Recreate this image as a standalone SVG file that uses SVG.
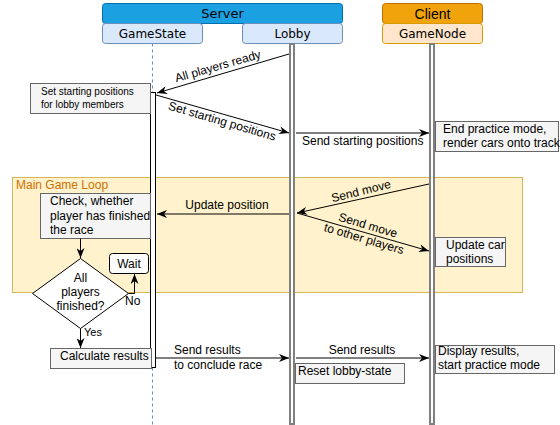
<svg xmlns="http://www.w3.org/2000/svg" width="560" height="425" viewBox="0 0 560 425">
<style>
.t{font-family:"Liberation Sans",Arial,sans-serif;font-size:12px;fill:#000}
.v{font-family:"DejaVu Sans",Verdana,sans-serif;font-size:12px;fill:#000}
.note{fill:#f5f5f5;stroke:#666;stroke-width:1}
.msg{fill:none;stroke:#000;stroke-width:1;marker-end:url(#a)}
.life{fill:#fff;stroke:#808080;stroke-width:2}
</style>
<defs>
<marker id="a" viewBox="0 0 10 8" refX="10" refY="4" markerWidth="10" markerHeight="8" orient="auto" markerUnits="userSpaceOnUse">
<path d="M0,0 L10,4 L0,8 L3,4 z" fill="#000"/>
</marker>
</defs>
<rect width="560" height="425" fill="#fff"/>

<g id="frame">
<rect x="12.5" y="177.5" width="510" height="115" fill="#fff2cc" stroke="#d6b656"/>
<text x="16" y="189" style="font-family:'Liberation Sans',Arial,sans-serif;font-size:12px;fill:#d07000">Main Game Loop</text>
</g>

<g id="server">
<rect x="102.5" y="3.5" width="240" height="20" rx="3" fill="#1ba1e2" stroke="#006eaf"/>
<text x="222.5" y="18" text-anchor="middle" class="v" style="font-size:13px">Server</text>
</g>
<g id="client">
<rect x="382.5" y="3.5" width="100" height="20" rx="3" fill="#f0a30a" stroke="#bd7000"/>
<text x="432.5" y="18.5" text-anchor="middle" class="t" style="font-size:14px">Client</text>
</g>
<g id="gamestate">
<rect x="102.5" y="23.5" width="100" height="20" rx="3" fill="#dae8fc" stroke="#6c8ebf"/>
<text x="152.5" y="37.5" text-anchor="middle" class="v">GameState</text>
<line x1="152.5" y1="43.5" x2="152.5" y2="425" stroke="#6c8ebf" stroke-dasharray="3 3"/>
<rect x="150.5" y="92.5" width="5" height="275" fill="#fff" stroke="#000"/>
</g>
<g id="lobby">
<rect x="242.5" y="23.5" width="100" height="20" rx="3" fill="#dae8fc" stroke="#6c8ebf"/>
<text x="292.5" y="37.5" text-anchor="middle" class="v">Lobby</text>
<rect x="290" y="44" width="4" height="380" class="life"/>
</g>
<g id="gamenode">
<rect x="382.5" y="23.5" width="100" height="20" rx="3" fill="#ffe6cc" stroke="#d79b00"/>
<text x="432.5" y="37.5" text-anchor="middle" class="v">GameNode</text>
<rect x="430" y="44" width="4" height="380" class="life"/>
</g>

<g id="set-start-note">
<rect x="30.5" y="83.5" width="120" height="30" class="note"/>
<text x="41" y="95" class="t" style="font-size:10px">Set starting positions</text>
<text x="41" y="108" class="t" style="font-size:10px">for lobby members</text>
</g>
<g id="end-practice">
<rect x="435.5" y="121.5" width="123" height="30" class="note"/>
<text x="443" y="133" class="t">End practice mode,</text>
<text x="443" y="147" class="t">render cars onto track</text>
</g>
<g id="check">
<rect x="40.5" y="193.5" width="110" height="45" class="note"/>
<text x="50" y="205" class="t">Check, whether</text>
<text x="50" y="219.5" class="t">player has finished</text>
<text x="50" y="234" class="t">the race</text>
</g>
<g id="decision">
<path d="M80.5,258.5 L128.5,293.5 L80.5,328.5 L32.5,293.5 Z" fill="#fff" stroke="#000"/>
<text x="80.5" y="282" text-anchor="middle" class="t">All</text>
<text x="80.5" y="296" text-anchor="middle" class="t">players</text>
<text x="80.5" y="310" text-anchor="middle" class="t">finished?</text>
</g>
<g id="wait">
<rect x="109.5" y="253.5" width="39" height="20" rx="3" fill="#fff" stroke="#000"/>
<text x="129" y="267.5" text-anchor="middle" class="t">Wait</text>
</g>
<g id="update-car">
<rect x="435.5" y="237.5" width="70" height="29" class="note"/>
<text x="446" y="249" class="t">Update car</text>
<text x="446" y="263" class="t">positions</text>
</g>
<g id="calc">
<rect x="50.5" y="348.5" width="101" height="20" class="note"/>
<text x="60" y="360" class="t">Calculate results</text>
</g>
<g id="reset">
<rect x="295.5" y="363.5" width="109" height="20" class="note"/>
<text x="298" y="375" class="t">Reset lobby-state</text>
</g>
<g id="display">
<rect x="435.5" y="345.5" width="119" height="28" class="note"/>
<text x="438" y="355" class="t">Display results,</text>
<text x="438" y="369" class="t">start practice mode</text>
</g>

<g id="connectors">
<line x1="289" y1="54" x2="157" y2="93" class="msg"/>
<text transform="translate(219,70) rotate(-16)" text-anchor="middle" class="t">All players ready</text>
<line x1="156" y1="95" x2="289" y2="133" class="msg"/>
<text transform="translate(221,125) rotate(16.5)" text-anchor="middle" class="t">Set starting positions</text>
<line x1="296" y1="133" x2="429" y2="133" class="msg"/>
<text x="302" y="145" class="t">Send starting positions</text>
<line x1="429" y1="184" x2="297" y2="213" class="msg"/>
<text transform="translate(362,195) rotate(-14)" text-anchor="middle" class="t">Send move</text>
<line x1="297" y1="213" x2="429" y2="251" class="msg"/>
<g transform="translate(366,232) rotate(16.5)">
<text x="0" y="-3" text-anchor="middle" class="t">Send move</text>
<text x="0" y="11" text-anchor="middle" class="t">to other players</text>
</g>
<line x1="289" y1="214" x2="157" y2="214" class="msg"/>
<text x="227" y="209" text-anchor="middle" class="t">Update position</text>
<line x1="80.5" y1="238.5" x2="80.5" y2="258" class="msg"/>
<polyline points="128.5,293.5 134.5,293.5 134.5,274" class="msg"/>
<text x="125" y="305" class="t">No</text>
<line x1="80.5" y1="328.5" x2="80.5" y2="348" class="msg"/>
<text x="84" y="336" class="t" style="font-size:11px">Yes</text>
<line x1="156" y1="358" x2="289" y2="358" class="msg"/>
<text x="174" y="354" class="t">Send results</text>
<text x="174" y="369" class="t">to conclude race</text>
<line x1="296" y1="358" x2="429" y2="358" class="msg"/>
<text x="362" y="354" text-anchor="middle" class="t">Send results</text>
</g>
</svg>
